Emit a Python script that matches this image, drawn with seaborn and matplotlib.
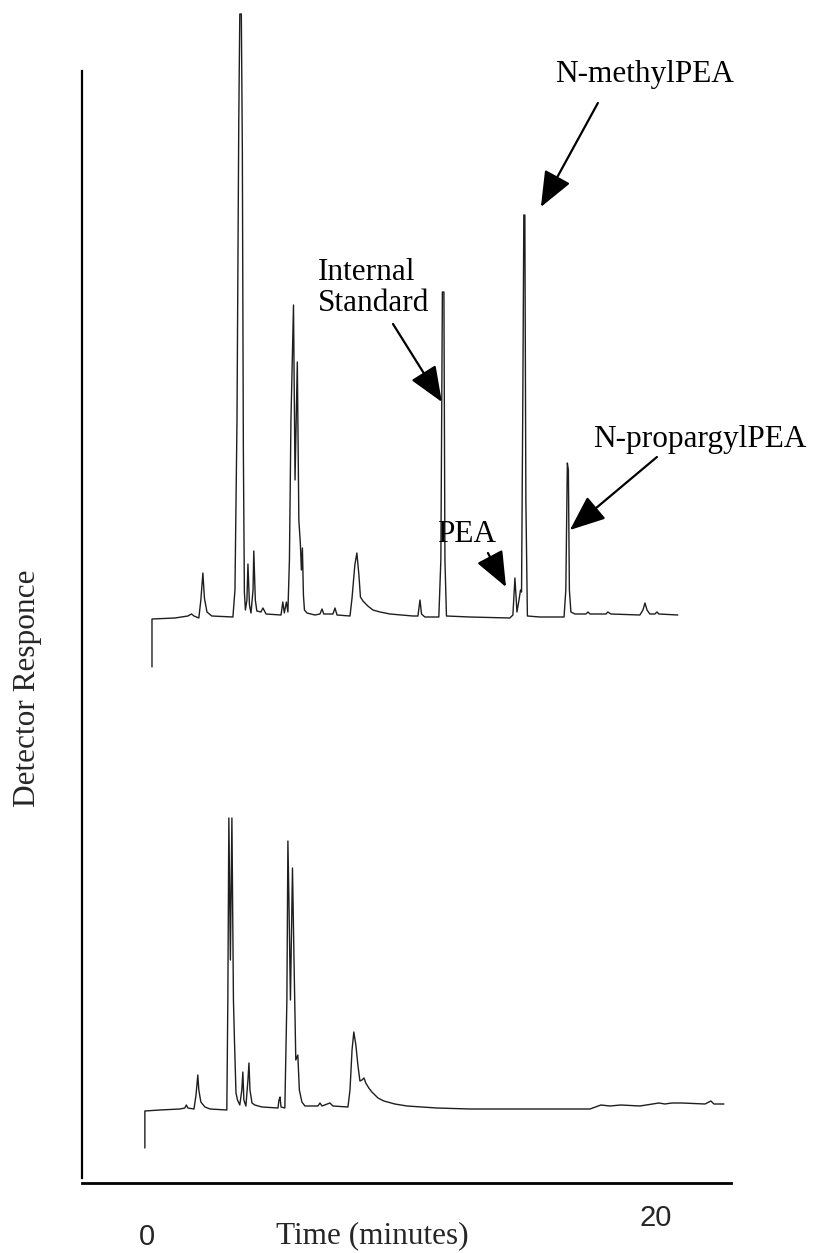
import matplotlib
matplotlib.use("Agg")
import matplotlib.pyplot as plt
import pandas as pd
import seaborn as sns

# Sample chromatogram (upper trace): retention time (min) and detector response
sample_time = [0.20, 0.20, 1.10, 1.61, 1.75, 1.85, 2.04, 2.12, 2.20, 2.26, 2.36, 2.55,
               3.38, 3.46, 3.54, 3.61, 3.65, 3.71, 3.75, 3.79, 3.83, 3.87, 3.93, 3.97,
               4.03, 4.09, 4.17, 4.20, 4.26, 4.32, 4.48, 4.56, 4.68, 5.27, 5.34, 5.40,
               5.48, 5.54, 5.60, 5.66, 5.76, 5.82, 5.91, 5.97, 6.03, 6.07, 6.11, 6.15,
               6.19, 6.29, 6.60, 6.80, 6.88, 6.95, 7.31, 7.39, 7.47, 7.98, 8.06, 8.17,
               8.25, 8.33, 8.39, 8.49, 8.68, 8.88, 9.16, 9.55, 10.45, 10.65, 10.73, 10.79,
               10.92, 11.47, 11.55, 11.61, 11.67, 11.71, 11.77, 12.69, 14.26, 14.38, 14.46, 14.54,
               14.62, 14.68, 14.72, 14.77, 14.81, 14.85, 14.89, 14.95, 15.44, 16.39, 16.46, 16.52,
               16.56, 16.60, 16.66, 16.82, 17.25, 17.33, 17.41, 18.04, 18.11, 18.23, 19.37, 19.49,
               19.57, 19.65, 19.76, 19.96, 20.04, 20.12, 20.86]
sample_resp = [-5.0, -0.2, -0.1, 0.1, 0.3, 0.1, -0.1, 1.7, 4.4, 1.9, 0.5, 0.1,
               0.0, 2.7, 19.7, 49.7, 60.3, 60.3, 46.7, 16.7, 2.5, 0.7, 1.7, 5.3,
               1.2, 0.4, 2.7, 6.6, 1.7, 0.6, 0.5, 0.9, 0.3, 0.2, 1.5, 0.4,
               1.5, 0.5, 5.7, 19.7, 31.2, 13.7, 25.5, 9.7, 7.3, 4.7, 6.9, 2.2,
               0.7, 0.4, 0.2, 0.3, 0.8, 0.3, 0.3, 0.9, 0.2, 0.1, 1.9, 5.2,
               6.4, 4.2, 2.0, 1.6, 1.1, 0.7, 0.5, 0.3, 0.1, 0.1, 1.7, 0.3,
               0.0, 0.0, 5.7, 32.5, 32.5, 5.7, 0.1, 0.0, -0.1, 0.2, 3.9, 0.5,
               1.7, 2.7, 2.5, 21.7, 40.2, 40.2, 11.7, 0.1, 0.0, 0.0, 2.7, 15.4,
               14.7, 2.7, 0.5, 0.3, 0.3, 0.5, 0.3, 0.3, 0.5, 0.3, 0.2, 0.7,
               1.4, 0.7, 0.3, 0.3, 0.5, 0.3, 0.2]

# Blank chromatogram (lower trace)
blank_time = [-0.08, -0.08, 0.51, 1.30, 1.49, 1.55, 1.61, 1.85, 1.93, 2.00, 2.04, 2.12,
              2.28, 2.48, 3.14, 3.18, 3.22, 3.28, 3.34, 3.40, 3.44, 3.50, 3.56, 3.65, 3.73,
              3.77, 3.81, 3.89, 3.97, 4.01, 4.05, 4.13, 4.24, 4.52, 5.15, 5.19, 5.23,
              5.27, 5.42, 5.50, 5.54, 5.58, 5.64, 5.72, 5.78, 5.85, 5.93, 5.99, 6.09,
              6.21, 6.72, 6.80, 6.88, 7.19, 7.31, 7.90, 7.98, 8.06, 8.13, 8.21, 8.29,
              8.37, 8.45, 8.53, 8.60, 8.72, 8.84, 9.08, 9.31, 9.74, 10.22, 11.39, 12.69,
              17.41, 17.84, 18.19, 18.62, 19.37, 20.12, 20.35, 20.63, 21.02, 21.93, 22.16, 22.28,
              22.67]
blank_resp = [-3.8, -0.1, 0.0, 0.1, 0.2, 0.5, 0.2, 0.1, 1.5, 3.5, 2.0, 0.8,
              0.3, 0.1, 0.0, 11.0, 29.2, 15.0, 29.2, 11.0, 7.0, 1.7, 1.0, 0.5, 2.0,
              3.8, 1.0, 0.4, 3.0, 4.7, 2.0, 0.7, 0.5, 0.3, 0.2, 1.0, 1.3,
              0.3, 0.2, 11.0, 26.9, 21.0, 11.0, 24.2, 15.0, 5.0, 5.5, 2.0, 0.8,
              0.4, 0.4, 0.7, 0.4, 0.7, 0.4, 0.3, 2.0, 6.0, 7.8, 6.5, 4.5,
              2.9, 3.0, 3.2, 2.7, 2.2, 1.8, 1.2, 0.9, 0.6, 0.4, 0.2, 0.1,
              0.1, 0.5, 0.4, 0.5, 0.4, 0.7, 0.6, 0.7, 0.7, 0.6, 0.9, 0.6,
              0.6]

tick_values = [0, 20]
tick_labels = ["0", "20"]

# vertical stacking of the two runs on a common response axis
SAMPLE_OFFSET = 56.6
BLANK_OFFSET = 7.3

sns.set_theme(style="white")
plt.rcParams["font.family"] = ["Liberation Serif", "DejaVu Serif"]

fig = plt.figure(figsize=(8.26, 12.53), dpi=100)
ax = fig.add_axes([82 / 826, 70 / 1253, 649 / 826, 1183 / 1253])

sample = pd.DataFrame({"time": sample_time,
                       "signal": [v + SAMPLE_OFFSET for v in sample_resp]})
blank = pd.DataFrame({"time": blank_time,
                      "signal": [v + BLANK_OFFSET for v in blank_resp]})

trace_kw = dict(x="time", y="signal", sort=False, estimator=None,
                color="#1e1e1e", linewidth=1.0, ax=ax)
sns.lineplot(data=sample, **trace_kw)
sns.lineplot(data=blank, **trace_kw)

ax.set_xlim(-2.55, 22.95)
ax.set_ylim(0, 118.3)

# axes: open frame, separated left spine
for side in ("top", "right"):
    ax.spines[side].set_visible(False)
ax.spines["left"].set_color("black")
ax.spines["left"].set_linewidth(1.6)
ax.spines["left"].set_bounds(0.5, 111.2)
ax.spines["bottom"].set_color("black")
ax.spines["bottom"].set_linewidth(2.0)

ax.set_yticks([])
ax.set_xticks(tick_values)
ax.set_xticklabels(tick_labels, fontfamily="Liberation Sans", fontsize=21)
ax.tick_params(axis="x", length=0)
ticks = ax.xaxis.get_major_ticks()
ticks[0].set_pad(29)
ticks[1].set_pad(15)

ax.set_xlabel("Time (minutes)", fontsize=22.5, va="center")
ax.xaxis.set_label_coords(0.448, -0.0448)
ax.set_ylabel("Detector Responce", fontsize=22.5, va="center")
ax.yaxis.set_label_coords(-0.0847, 0.418)

label_kw = dict(fontsize=22.5, color="black")
arrow_kw = dict(arrowstyle="-|>,head_length=1.1,head_width=0.45",
                color="black", lw=1.6, shrinkA=0, shrinkB=0)

ax.text(6.72, 89.5, "Internal\nStandard", ha="left", va="center",
        linespacing=1.05, **label_kw)
ax.annotate("", xy=(11.59, 78.1), xytext=(9.67, 85.9),
            arrowprops=dict(mutation_scale=20, **arrow_kw))

ax.text(12.57, 64.8, "PEA", ha="center", va="center", **label_kw)
ax.annotate("", xy=(14.11, 59.6), xytext=(13.40, 63.0),
            arrowprops=dict(mutation_scale=20, **arrow_kw))

ax.text(16.03, 110.8, "N-methylPEA", ha="left", va="center", **label_kw)
ax.annotate("", xy=(15.48, 97.6), xytext=(17.72, 108.0),
            arrowprops=dict(mutation_scale=20, **arrow_kw))

ax.text(17.52, 74.3, "N-propargylPEA", ha="left", va="center", **label_kw)
ax.annotate("", xy=(16.62, 65.3), xytext=(20.04, 72.6),
            arrowprops=dict(mutation_scale=20, **arrow_kw))

fig.savefig("out.png", dpi=100, facecolor="white")
